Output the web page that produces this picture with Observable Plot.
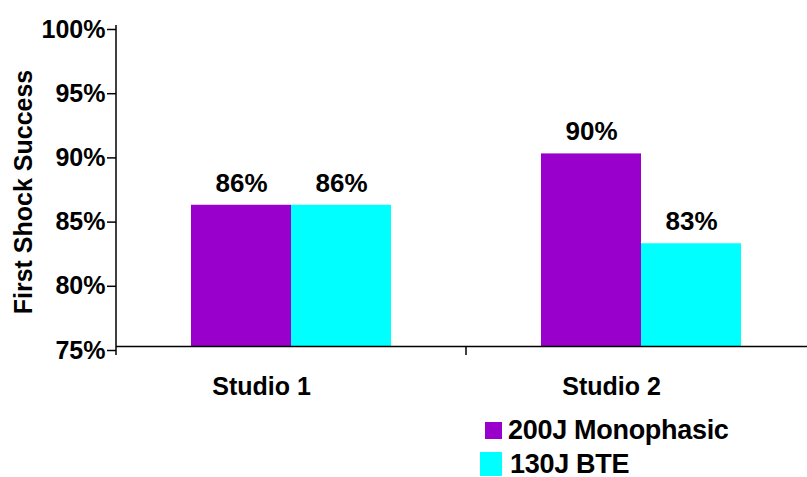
<!DOCTYPE html>
<html>
<head>
<meta charset="utf-8">
<script src="https://cdn.jsdelivr.net/npm/d3@7"></script>
<script src="https://cdn.jsdelivr.net/npm/@observablehq/plot@0.6"></script>
<style>
  html, body { margin: 0; padding: 0; background: #fff; overflow: hidden; }
  body { font-family: "Liberation Sans", Arial, sans-serif; width: 807px; height: 477px; }
  #chart svg { display: block; font-family: "Liberation Sans", Arial, sans-serif; }
  .legend { margin-top: 8px; font-weight: bold; font-size: 27px; letter-spacing: -0.3px; color: #000; }
  .legend .row { display: flex; align-items: center; height: 34px; }
  .legend .sw { flex: none; }
</style>
</head>
<body>
<div id="chart"></div>
<div class="legend" id="legend"></div>
<script>
const studios = ["Studio 1", "Studio 2"];
const seriesNames = ["200J Monophasic", "130J BTE"];
const monophasic = [86, 90];
const bte = [86, 83];
const colors = ["#9900cc", "#00ffff"];
const yTicks = [75, 80, 85, 90, 95, 100];
const yTitle = "First Shock Success";

const data = [];
studios.forEach((s, i) => {
  data.push({studio: s, series: seriesNames[0], value: monophasic[i]});
  data.push({studio: s, series: seriesNames[1], value: bte[i]});
});

const H = 405;
const plot = Plot.plot({
  width: 807,
  height: H,
  marginLeft: 116,
  marginRight: -9,
  marginTop: 25,
  marginBottom: 59,
  style: {fontFamily: "Liberation Sans, Arial, sans-serif", background: "white"},
  fx: {domain: studios, padding: 0, axis: null},
  x: {domain: seriesNames, paddingInner: 0, paddingOuter: 0.74, axis: null},
  y: {domain: [75, 100], axis: null},
  color: {domain: seriesNames, range: colors},
  marks: [
    Plot.barY(data, {fx: "studio", x: "series", y1: 75, y2: "value", fill: "series", inset: 0}),
    Plot.text(data, {fx: "studio", x: "series", y: "value", text: d => d.value + "%",
      dy: -22, fontSize: 26, fontWeight: "bold", fill: "black"}),
    Plot.ruleY([75], {stroke: "black", strokeWidth: 1.5}),
    Plot.axisY({ticks: yTicks, tickFormat: d => d + "%", tickSize: 9, tickPadding: 2,
      fontSize: 25, fontWeight: "bold", dy: 4, label: null, stroke: "black", strokeWidth: 1.5, color: "black"}),
    Plot.text(studios, {fx: d => d, text: d => d, frameAnchor: "bottom", lineAnchor: "top",
      dy: 31, dx: -30, fontSize: 25, fontWeight: "bold", fill: "black"}),
    Plot.text([yTitle], {fx: () => studios[0], text: d => d, frameAnchor: "left", textAnchor: "middle",
      lineAnchor: "middle", rotate: -90, dx: -93, dy: 6, fontSize: 25, fontWeight: "bold", fill: "black"})
  ]
});

// axis lines drawn from the plot's own scales
const ys = plot.scale("y");
const fxs = plot.scale("fx");
const svg = d3.select(plot.tagName.toLowerCase() === "svg" ? plot : plot.querySelector("svg"));
const xLeft = fxs.range[0];
const y0 = ys.apply(75), yTop = ys.apply(100);
const g = svg.append("g").attr("stroke", "black").attr("stroke-width", 1.5);
g.append("line").attr("x1", xLeft).attr("x2", xLeft).attr("y1", yTop).attr("y2", y0 + 9);
studios.slice(1).forEach(s => {
  const x = fxs.apply(s);
  g.append("line").attr("x1", x).attr("x2", x).attr("y1", y0).attr("y2", y0 + 9);
});

document.getElementById("chart").appendChild(plot);

// legend
const legend = d3.select("#legend");
const swatches = [
  {ml: 485, w: 17, h: 17, gap: 6},
  {ml: 480, w: 22, h: 24, gap: 8}
];
seriesNames.forEach((name, i) => {
  const row = legend.append("div").attr("class", "row").style("margin-left", swatches[i].ml + "px");
  row.append("div").attr("class", "sw")
    .style("width", swatches[i].w + "px").style("height", swatches[i].h + "px")
    .style("background", colors[i]).style("margin-right", swatches[i].gap + "px");
  row.append("span").text(name);
});
</script>
</body>
</html>
